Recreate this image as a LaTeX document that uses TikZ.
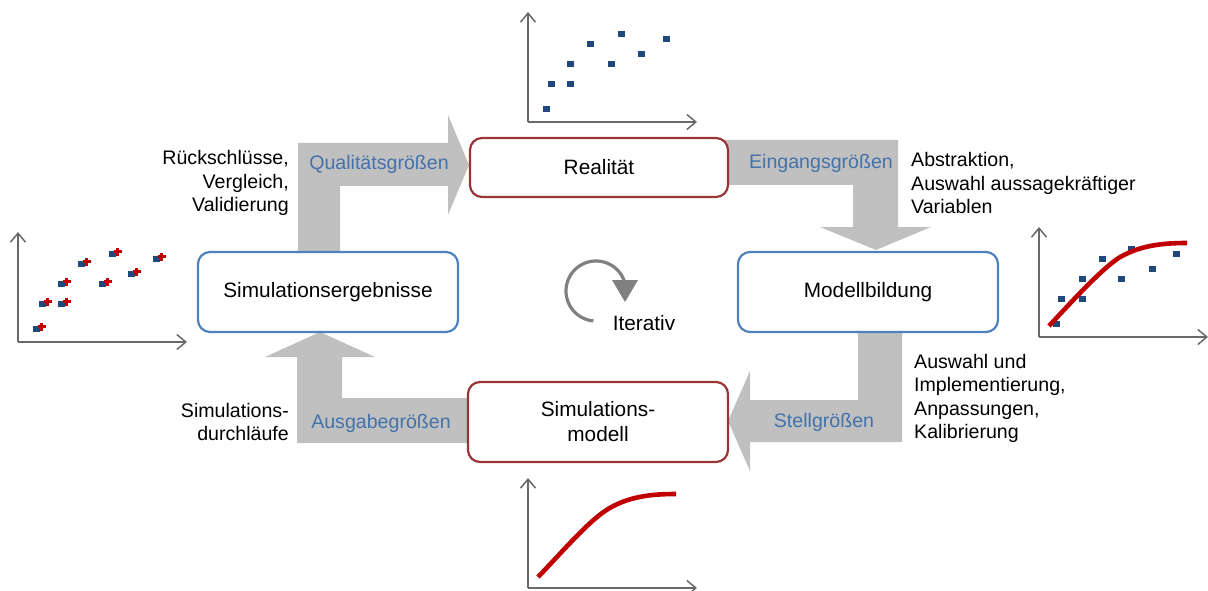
\documentclass[tikz,border=0pt]{standalone}
\usepackage{fontspec}
\setmainfont{Liberation Sans}
\usetikzlibrary{arrows.meta}
\definecolor{boxred}{RGB}{155,52,55}
\definecolor{boxblue}{RGB}{79,129,189}
\definecolor{lblblue}{RGB}{68,114,170}
\definecolor{flowgray}{RGB}{192,192,192}
\definecolor{axisgray}{RGB}{105,105,105}
\definecolor{iconGray}{RGB}{128,128,128}
\definecolor{mblue}{RGB}{31,73,125}
\definecolor{mred}{RGB}{192,0,0}
\newcommand\bxfont{\fontsize{20.8}{25}\selectfont}
\newcommand\smfont{\fontsize{19.6}{23.5}\selectfont}
\begin{document}
\begin{tikzpicture}[x=1pt,y=-1pt,
  box/.style={draw, line width=2.2pt, rounded corners=12pt, fill=white,
    minimum width=258pt, inner sep=0pt, font=\bxfont, align=center},
  redbox/.style={box, draw=boxred},
  bluebox/.style={box, draw=boxblue},
  flow/.style={fill=flowgray},
  lbl/.style={text=lblblue, font=\smfont, inner sep=0pt},
  note/.style={font=\smfont, inner sep=0pt},
  axis/.style={draw=axisgray, line width=1.5pt, -{Straight Barb[length=9pt,width=15pt]}},
  curve/.style={draw=mred, line width=4.6pt},
]
\useasboundingbox (0,0) rectangle (1208,591);

% ---------- big flow arrows ----------
\fill[flow] (298,256) -- (298,143) -- (448,143) -- (448,115) -- (469,165) -- (448,215) -- (448,186) -- (340,186) -- (340,256) -- cycle;
\fill[flow] (720,140) -- (898,140) -- (898,227) -- (931,227) -- (876,250) -- (820,227) -- (853,227) -- (853,185) -- (720,185) -- cycle;
\fill[flow] (858,328) -- (902,328) -- (902,442) -- (750,442) -- (750,471) -- (728,421) -- (750,371) -- (750,400) -- (858,400) -- cycle;
\fill[flow] (472,443) -- (297,443) -- (297,357) -- (265,357) -- (320,332) -- (375,357) -- (342,357) -- (342,398) -- (472,398) -- cycle;

% ---------- boxes ----------
\node[redbox, minimum height=59pt] (real) at (599,167.5) {Realität};
\node[bluebox, minimum width=260pt, minimum height=80pt] (model) at (868,292) {Modellbildung};
\node[bluebox, minimum width=260pt, minimum height=80pt] (simerg) at (328,292) {Simulationsergebnisse};
\node[redbox, minimum width=260pt, minimum height=80pt] (simmod) at (598,422) {Simulations-\\modell};

% ---------- flow labels ----------
\node[lbl] (lq) at (379,164) {Qualitätsgrößen};
\node[lbl] (le) at (821,163) {Eingangsgrößen};
\node[lbl] (ls) at (824,422) {Stellgrößen};
\node[lbl] (la) at (381,423) {Ausgabegrößen};

% ---------- notes ----------
\node[note, anchor=east, align=right] (n1) at (289,183) {Rückschlüsse,\\Vergleich,\\Validierung};
\node[note, anchor=west, align=left] (n2) at (911,183) {Abstraktion,\\Auswahl aussagekräftiger\\Variablen};
\node[note, anchor=west, align=left] (n3) at (914,398.5) {Auswahl und\\Implementierung,\\Anpassungen,\\Kalibrierung};
\node[note, anchor=east, align=right] (n4) at (289,422) {Simulations-\\durchläufe};

% ---------- iterative icon ----------
\draw[iconGray, line width=3.2pt] plot[domain=95:340, samples=60] ({596+30*cos(\x)},{291+30*sin(\x)});
\fill[iconGray] (612,280) -- (638,280) -- (625,302) -- cycle;
\node[font=\bxfont, inner sep=0pt] (iter) at (644,323) {Iterativ};

% ---------- top chart ----------
\begin{scope}[shift={(528,122)}]
  \draw[axis] (0,0) -- (0,-110);
  \draw[axis] (0,0) -- (169,0);
  \foreach \px/\py in {18/-13,23/-38,42/-38,42/-58,62/-78,83/-58,93/-88,113/-68,138/-83}
    \fill[mblue] (\px-3.5,\py-3) rectangle ++(7,6);
\end{scope}

% ---------- left chart ----------
\begin{scope}[shift={(18,342)}]
  \draw[axis] (0,0) -- (0,-110);
  \draw[axis] (0,0) -- (169,0);
  \foreach \px/\py in {18/-13,24/-38,43/-38,43/-58,63/-78,84/-58,94/-88,113/-68,138/-83}{
    \fill[mblue] (\px-3.5,\py-3) rectangle ++(7,6);
    \fill[mred] (\px+1.5,\py-4) rectangle ++(8,3.4);
    \fill[mred] (\px+3.8,\py-6.3) rectangle ++(3.4,8);
  }
\end{scope}

% ---------- right chart ----------
\begin{scope}[shift={(1039,337)}]
  \draw[axis] (0,0) -- (0,-110);
  \draw[axis] (0,0) -- (169,0);
  \foreach \px/\py in {17/-13,22/-38,43/-38,43/-58,63/-78,82/-58,92/-88,113/-68,137/-83}
    \fill[mblue] (\px-3.5,\py-3) rectangle ++(7,6);
  \draw[curve] (10,-11) .. controls (35,-38) and (60,-65) .. (78,-78) .. controls (100,-92) and (125,-94) .. (148,-94);
\end{scope}

% ---------- bottom chart ----------
\begin{scope}[shift={(528,588)}]
  \draw[axis] (0,0) -- (0,-110);
  \draw[axis] (0,0) -- (169,0);
  \draw[curve] (10,-11) .. controls (35,-37) and (58,-64) .. (77,-77) .. controls (99,-92) and (125,-94) .. (148,-94);
\end{scope}
\end{tikzpicture}
\end{document}
